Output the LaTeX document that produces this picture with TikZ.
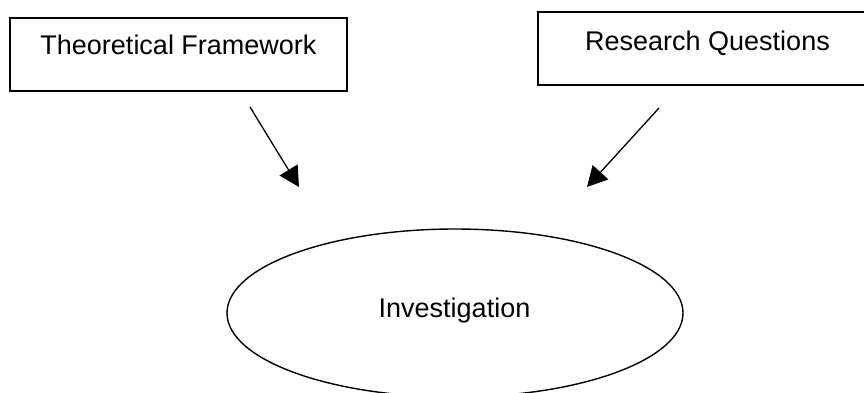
\documentclass[tikz,border=0pt]{standalone}
\usepackage{fontspec}
\setmainfont{Liberation Sans}
\usetikzlibrary{arrows.meta,shapes.geometric}
\begin{document}
\begin{tikzpicture}[x=1pt,y=-1pt,
  boxst/.style={draw,line width=1.6pt,rectangle,inner sep=0pt},
  lbl/.style={font=\fontsize{27}{30}\selectfont,inner sep=0pt,anchor=base},
  arr/.style={line width=1.3pt,-{Triangle[length=20pt,width=21pt]}}]
\useasboundingbox (0,0) rectangle (864,392);
\node[boxst,minimum width=337pt,minimum height=73pt] (tf) at (178.5,54.5) {};
\node[lbl] (tft) at (178.5,54) {Theoretical Framework};
\node[boxst,minimum width=328pt,minimum height=73pt] (rq) at (702,48.5) {};
\node[lbl] (rqt) at (707.5,50) {Research Questions};
\node[draw,ellipse,line width=1.4pt,minimum width=456pt,minimum height=168pt,inner sep=0pt] (inv) at (455,313) {};
\node[lbl] (invt) at (454.5,317) {Investigation};
\coordinate (a1s) at (250,107);
\coordinate (a1e) at (299,187);
\coordinate (a2s) at (659,108);
\coordinate (a2e) at (587,187);
\draw[arr] (a1s) -- (a1e);
\draw[arr] (a2s) -- (a2e);
\end{tikzpicture}
\end{document}
